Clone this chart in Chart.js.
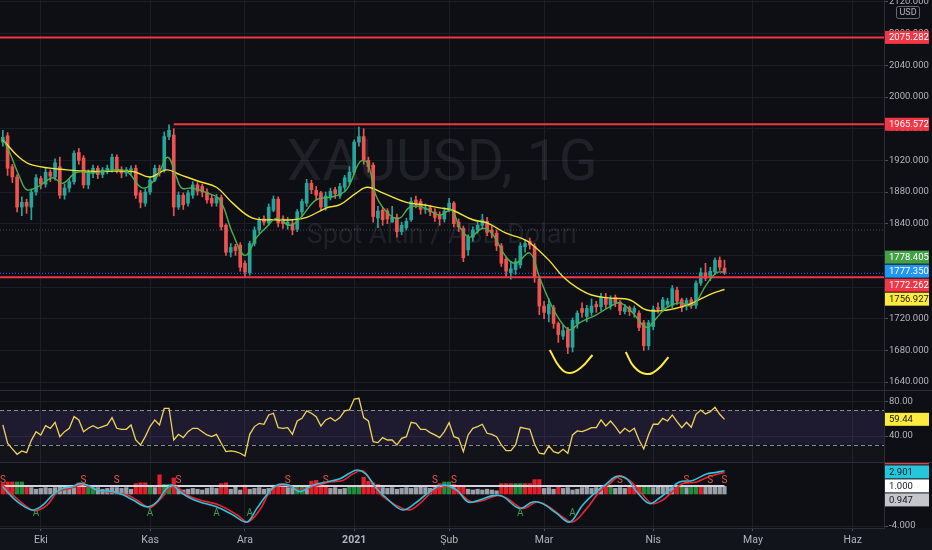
<!DOCTYPE html>
<html>
<head>
<meta charset="utf-8">
<script src="https://cdn.jsdelivr.net/npm/chart.js@4.4.0/dist/chart.umd.min.js"></script>
<style>
  html, body { margin: 0; padding: 0; background: #0d0f14; overflow: hidden; }
  #wrap { position: relative; width: 932px; height: 550px; }
  .pane { position: absolute; left: 0; width: 932px; }
  #pMain { top: 0; height: 390px; }
  #pRsi { top: 391px; height: 71px; }
  #pOsc { top: 463px; height: 87px; }
  .sep { position: absolute; left: 0; width: 932px; height: 1px; background: #2a2e39; }
</style>
</head>
<body>
<div id="wrap">
  <div class="pane" id="pMain"><canvas id="cMain"></canvas></div>
  <div class="sep" style="top:390px"></div>
  <div class="pane" id="pRsi"><canvas id="cRsi"></canvas></div>
  <div class="sep" style="top:462px"></div>
  <div class="pane" id="pOsc"><canvas id="cOsc"></canvas></div>
</div>
<script>
// XAUUSD daily candles, Sep 2020 - Apr 2021
const opens = [
  1943,1951,1912,1899,1861,1867,1861,1880,1897,1890,
  1905,1899,1912,1876,1885,1893,1930,1923,1889,1904,
  1910,1902,1908,1908,1924,1908,1904,1908,1910,1879,
  1866,1880,1895,1910,1908,1950,1952,1861,1876,1866,
  1876,1889,1887,1880,1872,1866,1873,1838,1804,1811,
  1813,1790,1778,1815,1832,1846,1841,1857,1871,1846,
  1838,1840,1833,1855,1866,1891,1882,1879,1861,1874,
  1883,1875,1886,1893,1905,1943,1950,1920,1914,1847,
  1857,1856,1842,1848,1830,1835,1845,1870,1868,1858,
  1860,1855,1851,1846,1858,1866,1842,1834,1807,1823,
  1832,1838,1843,1832,1828,1812,1795,1778,1782,1788,
  1811,1818,1812,1770,1736,1726,1734,1714,1698,1706,
  1684,1714,1733,1723,1728,1738,1735,1747,1737,1747,
  1741,1729,1734,1728,1727,1715,1686,1710,1734,1731,
  1738,1737,1756,1744,1736,1744,1737,1765,1778,1772,
  1779,1794,1784
];
const highs = [
  1958,1955,1915,1902,1874,1871,1884,1902,1900,1910,
  1908,1922,1924,1890,1897,1932,1935,1926,1908,1914,
  1913,1911,1914,1928,1927,1912,1911,1913,1914,1882,
  1884,1899,1914,1914,1956,1965,1960,1880,1879,1882,
  1893,1892,1890,1884,1876,1877,1876,1840,1815,1814,
  1816,1793,1818,1836,1848,1850,1865,1875,1874,1850,
  1848,1845,1858,1871,1896,1895,1887,1881,1880,1885,
  1886,1891,1901,1912,1946,1962,1960,1924,1917,1862,
  1860,1859,1862,1852,1842,1847,1873,1875,1871,1865,
  1863,1859,1855,1860,1872,1868,1846,1837,1826,1836,
  1842,1852,1848,1837,1832,1815,1798,1792,1796,1816,
  1820,1822,1815,1772,1742,1745,1737,1716,1712,1709,
  1721,1730,1740,1737,1745,1742,1752,1752,1749,1750,
  1743,1738,1736,1736,1730,1718,1718,1736,1740,1747,
  1746,1762,1760,1746,1746,1747,1768,1784,1790,1785,
  1797,1798,1794
];
const lows = [
  1938,1901,1892,1855,1850,1853,1845,1876,1884,1886,
  1893,1895,1872,1871,1880,1890,1915,1885,1884,1898,
  1897,1898,1903,1905,1904,1898,1900,1902,1872,1860,
  1862,1877,1893,1900,1905,1946,1850,1858,1858,1862,
  1872,1876,1874,1866,1862,1862,1832,1800,1798,1800,
  1780,1773,1775,1812,1828,1838,1838,1855,1836,1834,
  1833,1826,1830,1849,1862,1878,1870,1856,1857,1870,
  1872,1872,1882,1890,1902,1938,1915,1905,1842,1835,
  1838,1840,1842,1823,1826,1832,1843,1860,1852,1853,
  1850,1843,1838,1842,1855,1836,1830,1792,1800,1818,
  1828,1834,1825,1822,1806,1786,1772,1770,1776,1784,
  1804,1808,1766,1725,1720,1716,1708,1690,1694,1676,
  1678,1708,1722,1716,1724,1728,1730,1733,1732,1735,
  1725,1726,1724,1722,1705,1680,1681,1706,1727,1729,
  1735,1734,1738,1729,1731,1733,1733,1762,1768,1768,
  1776,1781,1776
];
const closes = [
  1949,1910,1899,1861,1867,1862,1880,1898,1890,1905,
  1900,1917,1876,1885,1893,1929,1920,1889,1904,1910,
  1902,1908,1910,1924,1908,1904,1908,1909,1876,1867,
  1880,1895,1910,1904,1950,1958,1861,1876,1864,1879,
  1889,1881,1880,1870,1866,1873,1836,1804,1810,1806,
  1785,1779,1815,1832,1844,1842,1861,1871,1841,1840,
  1842,1832,1855,1868,1891,1883,1876,1861,1875,1881,
  1878,1887,1898,1905,1943,1950,1920,1912,1849,1856,
  1845,1846,1848,1830,1838,1843,1868,1866,1858,1860,
  1855,1848,1846,1856,1866,1840,1836,1797,1823,1832,
  1838,1845,1829,1828,1812,1790,1780,1783,1792,1812,
  1815,1813,1773,1736,1728,1738,1714,1700,1705,1684,
  1718,1727,1728,1733,1736,1735,1747,1738,1745,1740,
  1730,1734,1729,1733,1709,1686,1715,1732,1732,1744,
  1742,1758,1742,1734,1743,1737,1765,1778,1771,1780,
  1794,1785,1778.405
];

// moving averages drawn on the price pane: [candle index, value]
const slowMa = [
  [0,1946],[3.6,1923],[6.3,1914],[13.5,1908],[20.4,1906],[27.4,1906],[31,1899],[34.5,1908],
  [37.3,1902],[41.5,1893],[45,1886],[48.4,1866],[52.6,1847],[56.8,1845],[61,1845],[64,1848],
  [68.2,1860],[71,1864],[74.5,1879],[76.8,1886],[80,1879],[85,1867],[88.4,1864],[92,1860],
  [94.7,1857],[99,1845],[102,1841],[106,1828],[109,1822],[111,1816],[115,1794],[118,1773],
  [121,1759],[124,1750],[128,1746],[132,1744],[135.6,1731],[140,1731],[144,1737],[146.7,1744],
  [149.5,1752],[152,1756.927]
];
const fastMa = [
  [0,1948],[1.5,1929],[3.6,1898],[5,1883],[7.2,1886],[10.5,1898],[12.6,1891],[15.6,1905],
  [19,1904],[23.2,1908],[26.1,1906],[29.5,1885],[32.4,1899],[34.7,1924],[36.5,1900],[37.7,1885],
  [40,1885],[43,1879],[45.7,1870],[48.4,1828],[51,1800],[53.5,1823],[55.6,1836],[57.7,1847],
  [60.4,1838],[62.5,1846],[66,1870],[69.5,1874],[72.4,1883],[75.2,1918],[76.8,1917],[78.7,1874],
  [81.5,1851],[83.6,1847],[85.7,1861],[88.4,1861],[92,1851],[94.5,1857],[96.2,1836],[98.3,1823],
  [101,1834],[103,1828],[106,1798],[108,1790],[111,1803],[113,1773],[115,1744],[117,1721],
  [119.4,1706],[121.5,1715],[125,1725],[127.8,1735],[130,1740],[132.6,1728],[135.6,1709],[137.7,1721],
  [139.8,1734],[142.5,1740],[145.3,1737],[148.2,1763],[150.3,1778],[152,1779]
];

const rsi = [
  52.9,31.6,25,18.8,22.7,20.7,35,45.1,41.3,52.1,
  49,56,39.3,45.1,49,62.6,58.7,45.1,49,52.1,
  49,51,52.9,61.4,49,47.8,47.8,52.9,35.4,29.6,
  39.3,51,58.7,52.9,72.3,72.3,35.4,42,38.2,45.1,
  49,49,45.1,41.3,39.3,42,31.6,21.9,22.7,21.9,
  20,16.8,42,51,54.8,53.7,64.5,66.5,49.8,49,
  49.8,42,57.5,60.6,69.2,66.5,62.6,51.7,58.7,61.4,
  57.5,61.4,69.2,70.3,83.1,83.9,61.4,57.5,33.5,32.3,
  38.2,35.4,35.4,29.6,37.4,39.3,56,54.8,47.8,47.8,
  44,41.3,38.2,45.1,55.6,39.3,37.4,21.9,41.3,49,
  51,53.7,43.2,42,39.3,29.6,23,23,29.6,50.2,
  49,47.8,30.8,20,19.2,28.5,21.9,20,24.6,20,
  41.3,45.9,45.1,47.1,49.8,49.8,58.7,51.7,57.5,51,
  43.2,49,45.1,49,35.4,25,41.3,53.7,53.7,60.6,
  57.5,64.5,56.8,49.8,56,50.2,65.3,70.3,65.7,68.4,
  73.4,65.3,59.44
];

// lower oscillator: two signal lines [index, value], histogram per candle
const oscFast = [
  [0,0.9],[1.5,-0.1],[3.6,-1.2],[6.3,-2],[8.4,-1.4],[10.5,-0.1],[12.6,0.7],[14.5,0.9],[16.2,1.3],
  [17.9,1.1],[19.8,0.5],[23.2,0.3],[25.3,-0.1],[27.4,-0.75],[30.3,-1.6],[32.4,-1],[34.5,0.7],
  [35.8,1.1],[37.3,0.3],[39.4,-0.5],[41.5,-1],[45,-1.6],[48.4,-2.6],[51.4,-3.5],[53.5,-1.8],
  [55.6,-0.1],[57.7,1.1],[60.4,1.1],[62.5,0.3],[65.3,1.1],[68.2,1.5],[71,1.9],[73,2.6],[74.7,3],
  [76.6,2.4],[78.7,0.7],[80.8,-0.5],[84.2,-2],[87.2,-1],[89.9,0.3],[92.6,1.1],[95.6,0.5],[98,-1],
  [100.4,-0.75],[103.2,-0.2],[105.3,-0.3],[108.8,-1.8],[111.6,-1],[113.7,-1.2],[116.6,-2.4],
  [119.4,-3.5],[122.1,-1.4],[125,0.3],[127.2,1.3],[129.3,2.2],[131.4,1.9],[133.5,0.3],[136.2,-1.2],
  [138.3,-0.5],[140.4,0.5],[142.5,1.5],[145.3,1.7],[148.2,2.5],[150.3,2.7],[152,2.901]
];
const oscSlow = [
  [0,1.1],[2.1,-0.1],[4.2,-1.2],[6.7,-2.1],[9.3,-1.4],[11.6,0.3],[14.1,0.7],[16.8,1.2],[18.9,0.7],
  [21.9,0.3],[26.1,-0.1],[28.2,-0.75],[30.9,-1.7],[33,-0.75],[35.2,0.7],[36.6,0.9],[38.7,-0.1],
  [41.5,-0.75],[45.7,-1.4],[49.3,-2.6],[51.6,-3.5],[54.1,-2],[56.8,0.7],[59.8,1.1],[62.5,0.5],
  [65.3,0.9],[68.8,1.5],[71.6,1.7],[73.7,2.5],[75.8,2.9],[77.7,1.5],[80,-0.3],[85.3,-2],[87.8,-1.2],
  [90.5,0.3],[93.5,0.9],[96.2,0.1],[98.7,-1],[101.5,-0.75],[104,-0.2],[106.1,-0.5],[109.5,-1.8],
  [112.4,-1],[114.5,-1.4],[117.3,-2.6],[120,-3.5],[123,-1.8],[125.7,0.3],[127.8,1.3],[129.9,2.2],
  [132,1.7],[134.5,0.1],[136.8,-1.2],[139,-0.75],[141,0.3],[143.2,1.3],[146.1,1.5],[148.8,2.2],[152,2.7]
];
const histVals = [
  1.3,1.5,1.5,1.5,1.5,0.9,0.8,0.6,0.7,0.8,
  0.7,0.8,0.9,0.8,0.9,0.8,1.4,1.3,1.1,1.0,
  0.8,0.6,0.7,0.8,0.8,0.7,0.8,0.6,1.3,1.4,
  1.4,1.1,0.8,2.4,1.2,1.2,2.0,0.6,0.5,0.6,
  0.7,0.6,0.5,0.7,0.8,0.7,1.3,1.4,0.6,0.9,
  0.5,1.1,0.6,0.7,0.8,0.6,0.7,1.1,1.1,1.1,
  0.8,0.9,1.0,1.0,0.8,1.6,1.7,1.1,1.1,0.7,
  0.8,0.6,0.7,0.9,1.0,1.0,2.1,1.6,1.4,1.2,
  0.8,0.7,0.8,0.6,0.7,0.8,0.7,0.8,0.9,0.8,
  0.7,1.1,1.3,1.5,1.5,1.2,1.1,1.0,0.6,0.5,
  0.6,0.5,0.6,0.5,0.4,1.3,1.3,1.3,1.3,1.3,
  1.3,1.3,1.8,1.8,0.7,0.8,0.6,0.9,0.7,0.8,
  0.5,0.6,0.8,0.9,0.7,0.8,0.7,0.9,0.9,0.7,
  0.8,0.7,0.9,0.9,0.9,0.9,0.9,0.8,0.9,0.9,
  0.9,0.8,0.9,0.9,0.8,0.9,0.9,0.9,0.9,0.9,
  0.9,0.9,0.947
];
// r = sell bar, g = buy bar, n = neutral
const histColors = (
  'rrrggrnnnn' + 'nnnnnnrrgg' + 'nnnnnnnnrr' + 'rgnrggrnnn' + 'nnnnnnrrnn' +
  'nrnnnnnrrr' + 'nnggnrrrrn' + 'nnngggrrrr' + 'nnnnnnnnnn' + 'nrrggrrrnn' +
  'nnnnnrrrgg' + 'rrrrnnnrnn' + 'nnnnnnnrgn' + 'nnrrrggnnn' + 'nnrgnggrnn' + 'nnn'
).split('');
const sIdx = [0, 17, 24, 37, 60, 68, 91, 95, 130, 144, 149, 152];
const aIdx = [7, 31, 45, 52, 109, 120];
const oscLevel = 1.0;

// horizontal drawings and price lines
const levelVals = [2075.282, 1965.572, 1772.262];
const levelFrom = [null, 36, null];
const bidPrice = 1777.35;
const prevClose = 1832;
const arc1 = [[115.2,1680.5],[117.3,1659],[119.4,1651.4],[121.9,1659],[124.2,1674.2]];
const arc2 = [[131.2,1678],[133,1659],[135.6,1650.2],[137.9,1656],[140.2,1671.6]];

const monthIdx = [8, 31, 51, 74, 94, 114, 137, 158, 179];
const monthLbl = ['Eki', 'Kas', 'Ara', '2021', 'Şub', 'Mar', 'Nis', 'May', 'Haz'];
const priceTicks = [1640, 1680, 1720, 1760, 1800, 1840, 1880, 1920, 1960, 2000, 2040, 2080, 2120];
const rsiTicks = [40, 80];
const oscTicks = [-4];

// ---- look ----
const X_MIN = -0.6, X_MAX = 185.6, AXIS_W = 48;
const UP = '#26a69a', DOWN = '#ef5350';
const GRID = '#1b1e26', TXT = '#b2b5be', FONT = 'Roboto';
const AXIS_FONT = 9.5;
const last = closes.length - 1;

Chart.defaults.animation = false;
Chart.defaults.responsive = true;
Chart.defaults.maintainAspectRatio = false;
Chart.defaults.events = [];
Chart.defaults.plugins.legend.display = false;
Chart.defaults.plugins.tooltip.enabled = false;
Chart.defaults.font.family = FONT;

function xAxis(withLabels) {
  return {
    type: 'linear', min: X_MIN, max: X_MAX, offset: false,
    afterBuildTicks: ax => { ax.ticks = monthIdx.map(v => ({ value: v })); },
    grid: { color: GRID, offset: false, drawTicks: withLabels, tickLength: 3, tickColor: '#4a4e59' },
    border: { display: withLabels, color: '#2a2e39' },
    ticks: {
      display: withLabels, autoSkip: false, maxRotation: 0, color: TXT, padding: 3,
      font: ctx => ({ family: FONT, size: 10.5, weight: monthLbl[ctx.index] === '2021' ? 'bold' : 'normal' }),
      callback: (v, i) => monthLbl[i]
    },
    afterFit: ax => { ax.height = withLabels ? 22 : 0; ax.paddingLeft = 0; ax.paddingRight = 0; }
  };
}

function yAxis(min, max, ticks, digits) {
  return {
    position: 'right', min: min, max: max,
    afterBuildTicks: ax => { ax.ticks = ticks.map(v => ({ value: v })); },
    grid: { color: GRID, tickLength: 4, tickColor: '#4a4e59' },
    border: { color: '#2a2e39' },
    ticks: { color: TXT, font: { size: AXIS_FONT }, padding: 1, callback: v => v.toFixed(digits) },
    afterFit: ax => { ax.width = AXIS_W; ax.paddingTop = 0; ax.paddingBottom = 0; }
  };
}

// push overlapping axis labels apart, keeping each cluster centred
function spread(ys, h) {
  let groups = ys.map((y, i) => ({ s: i, e: i, sum: y }));
  let merged = true;
  while (merged) {
    merged = false;
    for (let k = 0; k < groups.length - 1; k++) {
      const a = groups[k], b = groups[k + 1];
      const na = a.e - a.s + 1, nb = b.e - b.s + 1;
      if (a.sum / na + na * h / 2 > b.sum / nb - nb * h / 2) {
        groups.splice(k, 2, { s: a.s, e: b.e, sum: a.sum + b.sum });
        merged = true;
        break;
      }
    }
  }
  const out = [];
  groups.forEach(g => {
    const n = g.e - g.s + 1, c = g.sum / n;
    for (let i = 0; i < n; i++) out[g.s + i] = c + (i - (n - 1) / 2) * h;
  });
  return out;
}

function drawAxisLabels(chart, items, digits) {
  const { ctx, chartArea, scales } = chart;
  const h = 14;
  const ys = spread(items.map(it => scales.y.getPixelForValue(it.v)), h);
  ctx.save();
  ctx.font = AXIS_FONT + 'px ' + FONT;
  ctx.textBaseline = 'middle';
  items.forEach((it, i) => {
    const y = ys[i];
    ctx.fillStyle = it.bg;
    ctx.fillRect(chartArea.right + 1, y - h / 2 + 0.5, 44, h - 1);
    ctx.fillStyle = it.fg;
    ctx.fillText(it.v.toFixed(digits), chartArea.right + 5, y + 0.5);
  });
  ctx.restore();
}

function lineSet(points, color, width, order, extra) {
  return Object.assign({
    type: 'line', data: points.map(p => ({ x: p[0], y: p[1] })),
    borderColor: color, borderWidth: width, pointRadius: 0, fill: false, order: order
  }, extra || {});
}

// ---------------- price pane ----------------
const candleCol = closes.map((c, i) => (c >= opens[i] ? UP : DOWN));
const mainSets = [
  {
    type: 'bar', data: closes.map((c, i) => ({ x: i, y: [lows[i], highs[i]] })),
    backgroundColor: candleCol, barThickness: 1, grouped: false, order: 9
  },
  {
    type: 'bar', data: closes.map((c, i) => ({ x: i, y: [opens[i], c] })),
    backgroundColor: candleCol, barThickness: 3, minBarLength: 1, grouped: false, order: 8
  },
  lineSet([[X_MIN, prevClose], [X_MAX, prevClose]], 'rgba(120,124,136,0.55)', 1, 10, { borderDash: [1, 2] }),
  lineSet([[X_MIN, bidPrice], [X_MAX, bidPrice]], '#2962ff', 1, 10, { borderDash: [1, 2] }),
  lineSet(slowMa, '#f5e33a', 1.4, 2, { tension: 0.4 }),
  lineSet(fastMa, '#4caf50', 1.4, 1, { tension: 0.4 }),
  lineSet(arc1, '#ffeb3b', 2, 0, { tension: 0.45 }),
  lineSet(arc2, '#ffeb3b', 2, 0, { tension: 0.45 })
];
levelVals.forEach((v, i) => {
  const from = levelFrom[i] === null ? X_MIN : levelFrom[i];
  mainSets.push(lineSet([[from, v], [X_MAX, v]], '#f23645', 2, 3));
});

const watermark = {
  id: 'watermark',
  beforeDatasetsDraw(chart) {
    const { ctx, chartArea } = chart;
    const cx = (chartArea.left + chartArea.right) / 2;
    ctx.save();
    ctx.fillStyle = 'rgba(150,155,170,0.13)';
    ctx.textAlign = 'center';
    ctx.textBaseline = 'middle';
    ctx.font = '57px ' + FONT;
    ctx.fillText('XAUUSD, 1G', cx, 166);
    ctx.font = '27px ' + FONT;
    ctx.fillText('Spot Altın / ABD Doları', cx, 236);
    ctx.restore();
  }
};

const mainLabels = {
  id: 'mainLabels',
  afterDraw(chart) {
    const { ctx, chartArea } = chart;
    drawAxisLabels(chart, [
      { v: levelVals[0], bg: '#f23645', fg: '#ffffff' },
      { v: levelVals[1], bg: '#f23645', fg: '#ffffff' },
      { v: closes[last], bg: '#43a047', fg: '#ffffff' },
      { v: bidPrice, bg: '#2196f3', fg: '#ffffff' },
      { v: levelVals[2], bg: '#f23645', fg: '#ffffff' },
      { v: slowMa[slowMa.length - 1][1], bg: '#ffeb3b', fg: '#131722' }
    ], 3);
    // currency badge
    ctx.save();
    ctx.fillStyle = '#0d0f14';
    ctx.fillRect(chartArea.right + 12, 6, 24, 13);
    ctx.strokeStyle = 'rgba(178,181,190,0.55)';
    ctx.lineWidth = 1;
    ctx.beginPath();
    ctx.roundRect(chartArea.right + 12.5, 6.5, 23, 12, 2);
    ctx.stroke();
    ctx.fillStyle = TXT;
    ctx.font = '9px ' + FONT;
    ctx.textAlign = 'center';
    ctx.textBaseline = 'middle';
    ctx.fillText('USD', chartArea.right + 24, 13);
    ctx.restore();
  }
};

new Chart(document.getElementById('cMain'), {
  type: 'bar',
  data: { datasets: mainSets },
  options: {
    layout: { padding: 0 },
    scales: { x: xAxis(false), y: yAxis(1630, 2122.5, priceTicks, 3) }
  },
  plugins: [watermark, mainLabels]
});

// ---------------- RSI pane ----------------
const rsiBand = {
  id: 'rsiBand',
  beforeDatasetsDraw(chart) {
    const { ctx, chartArea, scales } = chart;
    const y70 = scales.y.getPixelForValue(70), y30 = scales.y.getPixelForValue(30);
    ctx.save();
    ctx.fillStyle = 'rgba(255,255,255,0.025)';
    ctx.fillRect(chartArea.left, y30, chartArea.width, chartArea.bottom - y30);
    ctx.fillStyle = 'rgba(126,87,194,0.16)';
    ctx.fillRect(chartArea.left, y70, chartArea.width, y30 - y70);
    ctx.strokeStyle = 'rgba(178,181,190,0.75)';
    ctx.setLineDash([4, 3]);
    ctx.lineWidth = 1;
    [y70, y30].forEach(y => {
      ctx.beginPath();
      ctx.moveTo(chartArea.left, Math.round(y) + 0.5);
      ctx.lineTo(chartArea.right, Math.round(y) + 0.5);
      ctx.stroke();
    });
    ctx.restore();
  },
  afterDraw(chart) {
    drawAxisLabels(chart, [{ v: rsi[last], bg: '#ffeb3b', fg: '#131722' }], 2);
  }
};

new Chart(document.getElementById('cRsi'), {
  type: 'line',
  data: {
    datasets: [{
      data: rsi.map((v, i) => ({ x: i, y: v })),
      borderColor: '#f0d45a', borderWidth: 1.3, pointRadius: 0, tension: 0
    }]
  },
  options: {
    layout: { padding: 0 },
    scales: { x: xAxis(false), y: yAxis(9.8, 92.4, rsiTicks, 2) }
  },
  plugins: [rsiBand]
});

// ---------------- oscillator pane ----------------
const histPalette = { r: '#e3202a', g: '#1e8e3e', n: '#9a9ea7' };
const oscMarks = {
  id: 'oscMarks',
  beforeDraw(chart) {
    const { ctx, chartArea } = chart;
    ctx.save();
    ctx.fillStyle = '#12141b';
    ctx.fillRect(0, chartArea.bottom, chart.width, chart.height - chartArea.bottom);
    ctx.restore();
  },
  afterDatasetsDraw(chart) {
    const { ctx, scales } = chart;
    ctx.save();
    ctx.font = '10px ' + FONT;
    ctx.textAlign = 'center';
    ctx.textBaseline = 'middle';
    ctx.fillStyle = '#e9573f';
    sIdx.forEach(i => ctx.fillText('S', scales.x.getPixelForValue(i), scales.y.getPixelForValue(1.75)));
    ctx.fillStyle = '#3e9b4f';
    aIdx.forEach(i => ctx.fillText('A', scales.x.getPixelForValue(i), scales.y.getPixelForValue(-2.4)));
    ctx.restore();
  },
  afterDraw(chart) {
    drawAxisLabels(chart, [
      { v: oscSlow[oscSlow.length - 1][1], bg: '#f23645', fg: '#ffffff' },
      { v: oscFast[oscFast.length - 1][1], bg: '#26c6da', fg: '#131722' },
      { v: oscLevel, bg: '#ffffff', fg: '#131722' },
      { v: histVals[last], bg: '#c4c6cc', fg: '#131722' }
    ], 3);
  }
};

new Chart(document.getElementById('cOsc'), {
  type: 'bar',
  data: {
    datasets: [
      {
        type: 'bar', data: histVals.map((v, i) => ({ x: i, y: v })),
        backgroundColor: histColors.map(c => histPalette[c]),
        barThickness: 3.6, grouped: false, order: 5
      },
      lineSet([[0, oscLevel], [last, oscLevel]], '#d1d4dc', 2, 4),
      lineSet(oscSlow, '#f0202e', 1.6, 2, { tension: 0.35 }),
      lineSet(oscFast, '#2ec4dc', 1.6, 1, { tension: 0.35 })
    ]
  },
  options: {
    layout: { padding: 0 },
    scales: { x: xAxis(true), y: yAxis(-4.25, 3.875, oscTicks, 3) }
  },
  plugins: [oscMarks]
});
</script>
</body>
</html>
